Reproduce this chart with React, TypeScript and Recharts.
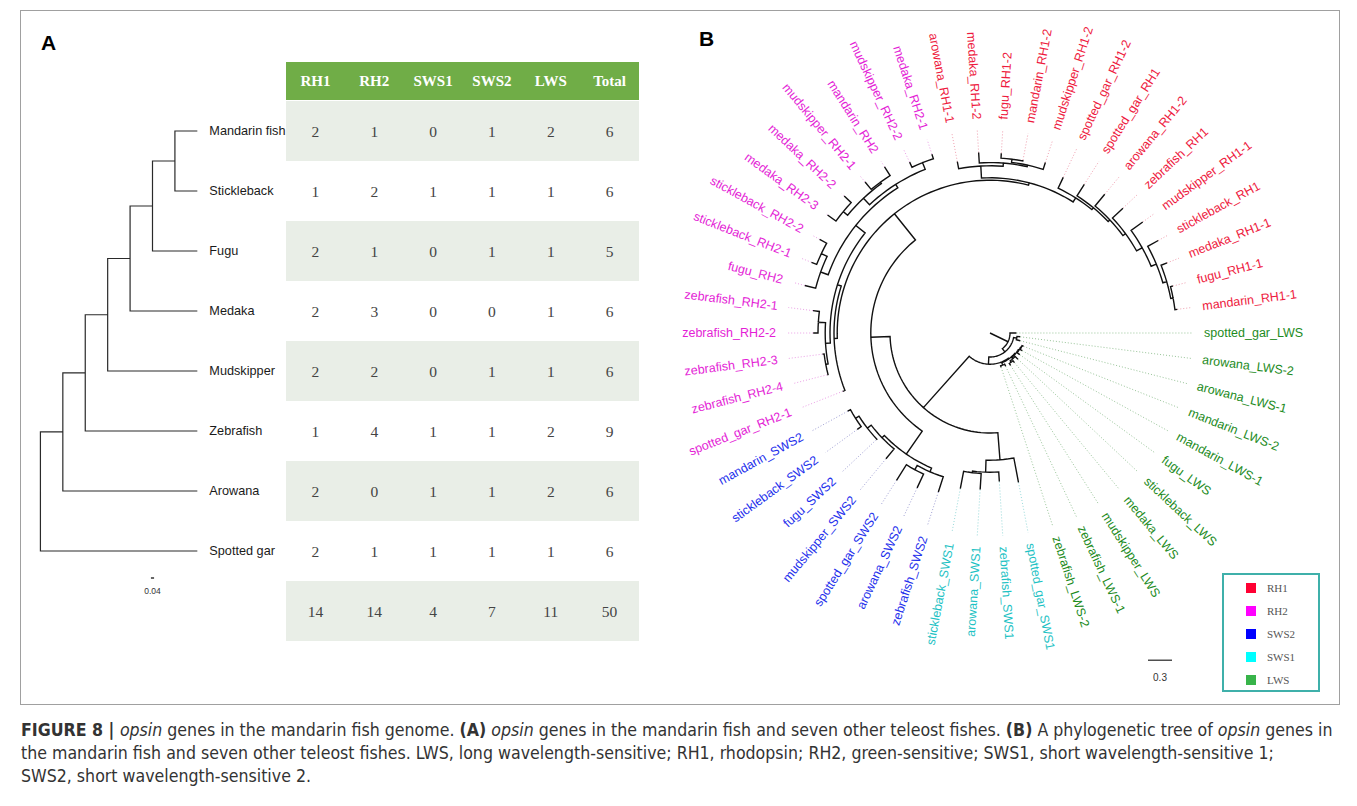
import React from "react";
import {
  ScatterChart,
  Scatter,
  XAxis,
  YAxis,
  ReferenceArea,
  ReferenceLine,
  Legend,
} from "recharts";

// ---------- panel A: opsin gene counts ----------
const species = ["Mandarin fish", "Stickleback", "Fugu", "Medaka", "Mudskipper", "Zebrafish", "Arowana", "Spotted gar"];
const columns = ["RH1", "RH2", "SWS1", "SWS2", "LWS", "Total"];
const rh1 = [2, 1, 2, 2, 2, 1, 2, 2];
const rh2 = [1, 2, 1, 3, 2, 4, 0, 1];
const sws1 = [0, 1, 0, 0, 0, 1, 1, 1];
const sws2 = [1, 1, 1, 0, 1, 1, 1, 1];
const lws = [2, 1, 1, 1, 1, 2, 2, 1];
const rowTotals = [6, 6, 5, 6, 6, 9, 6, 6];
const columnTotals = [14, 14, 4, 7, 11, 50];

// species cladogram: [node depth, ...children], numbers are species rows
type TreeNode = number | TreeNode[];
const speciesTree: TreeNode = [0, [1, [2, [3, [4, [5, [6, 0, 1], 2], 3], 4], 5], 6], 7];
const speciesTipDepth = 7;
const speciesScaleLabel = "0.04";

// ---------- panel B: opsin gene tree ----------
const geneNames = [
  "spotted_gar_LWS", "arowana_LWS-2", "arowana_LWS-1", "mandarin_LWS-2", "mandarin_LWS-1",
  "fugu_LWS", "stickleback_LWS", "medaka_LWS", "mudskipper_LWS", "zebrafish_LWS-1",
  "zebrafish_LWS-2", "spotted_gar_SWS1", "zebrafish_SWS1", "arowana_SWS1", "stickleback_SWS1",
  "zebrafish_SWS2", "arowana_SWS2", "spotted_gar_SWS2", "mudskipper_SWS2", "fugu_SWS2",
  "stickleback_SWS2", "mandarin_SWS2", "spotted_gar_RH2-1", "zebrafish_RH2-4", "zebrafish_RH2-3",
  "zebrafish_RH2-2", "zebrafish_RH2-1", "fugu_RH2", "stickleback_RH2-1", "stickleback_RH2-2",
  "medaka_RH2-3", "medaka_RH2-2", "mudskipper_RH2-1", "mandarin_RH2", "mudskipper_RH2-2",
  "medaka_RH2-1", "arowana_RH1-1", "medaka_RH1-2", "fugu_RH1-2", "mandarin_RH1-2",
  "mudskipper_RH1-2", "spotted_gar_RH1-2", "spotted_gar_RH1", "arowana_RH1-2", "zebrafish_RH1",
  "mudskipper_RH1-1", "stickleback_RH1", "medaka_RH1-1", "fugu_RH1-1", "mandarin_RH1-1",
];
const geneGroups = [
  "LWS", "LWS", "LWS", "LWS", "LWS", "LWS", "LWS", "LWS", "LWS", "LWS", "LWS",
  "SWS1", "SWS1", "SWS1", "SWS1",
  "SWS2", "SWS2", "SWS2", "SWS2", "SWS2", "SWS2", "SWS2",
  "RH2", "RH2", "RH2", "RH2", "RH2", "RH2", "RH2", "RH2", "RH2", "RH2", "RH2", "RH2", "RH2", "RH2",
  "RH1", "RH1", "RH1", "RH1", "RH1", "RH1", "RH1", "RH1", "RH1", "RH1", "RH1", "RH1", "RH1", "RH1",
];
const geneTipDepth = [
  0.33, 0.38, 0.39, 0.45, 0.46, 0.46, 0.48, 0.48, 0.48, 0.46, 0.45,
  1.9, 1.86, 1.96, 1.98,
  2.09, 2.14, 2.18, 2.04, 1.95, 2.05, 2.03,
  1.98, 2.1, 2.11, 2.21, 2.23, 2.39, 2.4, 2.43, 2.51, 2.5, 2.45, 2.46, 2.36, 2.35,
  2.18, 2.26, 2.25, 2.2, 2.24, 2.15, 2.2, 2.25, 2.28, 2.36, 2.4, 2.38, 2.36, 2.36,
];
const geneTree: TreeNode = [0,
  [0.25, 0,
    [0.3,
      [0.34, 1, 2],
      [0.39,
        [0.4,
          [0.41, [0.42, [0.43, 3, 4], 5], [0.43, 6, [0.45, 7, 8]]],
          [0.43, 9, 10]],
        [1.25,
          [1.59, 11, [1.74, 12, [1.76, 13, 14]]],
          [1.49,
            [1.84, [1.89, 15, [1.95, 16, 17]], [1.88, 18, [1.94, 19, [1.99, 20, 21]]]],
            [1.91,
              [1.95, 22,
                [2.0,
                  [2.06, [2.09, 23, 24], [2.15, 25, 26]],
                  [2.15, [2.25, 27, [2.33, 28, 29]], [2.2, [2.31, [2.38, 30, 31], [2.33, 32, 33]], [2.29, 34, 35]]]]],
              [1.94,
                [2.09, 36, [2.13, 37, [2.15, [2.19, 38, 39], 40]]],
                [2.0, 41, [2.03, 42, [2.06, 43, [2.1, 44, [2.18, 45, [2.25, 46, [2.3, 47, [2.33, 48, 49]]]]]]]]]]]]]]]];
const geneScale = 0.3;

const legendGroups = ["RH1", "RH2", "SWS2", "SWS1", "LWS"];
const labelColor: Record<string, string> = { RH1: "#EE1A3E", RH2: "#E41ED6", SWS2: "#2430EC", SWS1: "#1EC2C4", LWS: "#1D8B1D" };
const leaderColor: Record<string, string> = { RH1: "#F0A0B0", RH2: "#EBA0E6", SWS2: "#A0A0D4", SWS1: "#98DADA", LWS: "#98C498" };
const swatchColor: Record<string, string> = { RH1: "#FF0033", RH2: "#FF00FF", SWS2: "#0000FF", SWS1: "#00FFFF", LWS: "#38B44A" };

const SANS = "'Liberation Sans', Arial, sans-serif";
const SERIF = "'Liberation Serif', 'Times New Roman', serif";

// ---------- tree layout helpers ----------
type Pt = { x: number; y: number };
type Placed = { pos: number; depth: number; kids: Placed[] };

function place(node: TreeNode, leafPos: (i: number) => number, leafDepth: (i: number) => number): Placed {
  if (typeof node === "number") return { pos: leafPos(node), depth: leafDepth(node), kids: [] };
  const [depth, ...rest] = node as any[];
  const kids = rest.map((k: TreeNode) => place(k, leafPos, leafDepth));
  const pos = kids.reduce((s: number, k: Placed) => s + k.pos, 0) / kids.length;
  return { pos, depth, kids };
}

// one continuous polyline walking down every edge and back up
function tracePath(root: Placed, toXY: (depth: number, pos: number) => Pt, step: number): Pt[] {
  const out: Pt[] = [toXY(root.depth, root.pos)];
  const along = (depth: number, from: number, to: number) => {
    const n = Math.max(1, Math.ceil(Math.abs(to - from) / step));
    for (let k = 1; k <= n; k++) out.push(toXY(depth, from + ((to - from) * k) / n));
  };
  const walk = (node: Placed) => {
    node.kids.forEach((kid) => {
      along(node.depth, node.pos, kid.pos);
      out.push(toXY(kid.depth, kid.pos));
      walk(kid);
      out.push(toXY(node.depth, kid.pos));
      along(node.depth, kid.pos, node.pos);
    });
  };
  walk(root);
  return out;
}

const rect = (depth: number, pos: number): Pt => ({ x: depth, y: pos });
const polar = (depth: number, angle: number): Pt => ({
  x: depth * Math.cos((angle * Math.PI) / 180),
  y: depth * Math.sin((angle * Math.PI) / 180),
});

const leafAngle = (i: number) => (i * 360) / geneNames.length;

const speciesPath = tracePath(place(speciesTree, (i) => i, () => speciesTipDepth), rect, Infinity);
const genePath = tracePath(place(geneTree, leafAngle, (i) => geneTipDepth[i]), polar, 2);

const LEADER_END = 2.54;
const LABEL_R = 2.675;

const speciesLabels = species.map((name, i) => ({ x: speciesTipDepth, y: i, name }));
const countsByColumn = [rh1, rh2, sws1, sws2, lws, rowTotals];
const cellData = species.flatMap((_, r) => countsByColumn.map((col, c) => ({ x: c, y: r, v: col[r] })));
const totalData = columnTotals.map((v, c) => ({ x: c, y: species.length, v }));
const HEADER_Y = -0.83;
const headerData = columns.map((v, c) => ({ x: c, y: HEADER_Y, v }));
const shadedRows = [0, 2, 4, 6, 8];

const geneLabels = geneNames.map((name, i) => ({
  ...polar(LABEL_R, leafAngle(i)),
  name,
  angle: leafAngle(i),
  color: labelColor[geneGroups[i]],
}));

// ---------- shapes ----------
const Empty = () => <g />;

const SpeciesLabel = (p: any) => (
  <text x={p.cx + 12} y={p.cy} dominantBaseline="central" fontSize={12.7} fontFamily={SANS} fill="#1a1a1a">
    {p.payload.name}
  </text>
);

const CellText = (p: any) => (
  <text x={p.cx} y={p.cy} textAnchor="middle" dominantBaseline="central" fontSize={15.5} fontFamily={SERIF} fill="#444">
    {p.payload.v}
  </text>
);

const HeaderText = (p: any) => (
  <text x={p.cx} y={p.cy} textAnchor="middle" dominantBaseline="central" fontSize={15} fontWeight="bold" fontFamily={SERIF} fill="#fff">
    {p.payload.v}
  </text>
);

const SmallText = (p: any) => (
  <text x={p.cx} y={p.cy} textAnchor="middle" dominantBaseline="central" fontSize={p.payload.size} fontFamily={SANS} fill="#333">
    {p.payload.t}
  </text>
);

const GeneLabel = (p: any) => {
  const a = p.payload.angle;
  const flip = a > 90 && a < 270;
  const rot = flip ? a - 180 : a;
  return (
    <text
      x={p.cx}
      y={p.cy}
      transform={`rotate(${rot} ${p.cx} ${p.cy})`}
      textAnchor={flip ? "end" : "start"}
      dominantBaseline="central"
      fontSize={12.5}
      fontFamily={SANS}
      fill={p.payload.color}
    >
      {p.payload.name}
    </text>
  );
};

const LegendBox = () => (
  <div style={{ width: 98, height: 119, border: "2px solid #3FB0AA", boxSizing: "border-box", background: "#fff", paddingTop: 1 }}>
    {legendGroups.map((g) => (
      <div key={g} style={{ height: 23, display: "flex", alignItems: "center" }}>
        <span style={{ display: "inline-block", width: 10, height: 10, background: swatchColor[g], marginLeft: 22, marginRight: 11 }} />
        <span style={{ font: `11px ${SERIF}`, color: "#555" }}>{g}</span>
      </div>
    ))}
  </div>
);

const noMargin = { top: 0, right: 0, bottom: 0, left: 0 };
const abs = (left: number, top: number): React.CSSProperties => ({ position: "absolute", left, top });

export default function App() {
  return (
    <div style={{ position: "absolute", left: 0, top: 0, width: 1357, height: 806, background: "#fff", overflow: "hidden" }}>
      <div style={{ position: "absolute", left: 20, top: 10, width: 1320, height: 695, border: "1px solid #a0a0a0", boxSizing: "border-box" }} />
      <div style={{ ...abs(41, 31), font: `bold 21px ${SANS}`, color: "#000" }}>A</div>
      <div style={{ ...abs(699, 27), font: `bold 21px ${SANS}`, color: "#000" }}>B</div>

      {/* panel A: species cladogram */}
      <div style={abs(17.6, 41)}>
        <ScatterChart width={269} height={600} margin={noMargin}>
          <XAxis type="number" dataKey="x" domain={[-1, 11]} hide allowDataOverflow />
          <YAxis type="number" dataKey="y" domain={[-1.5, 8.5]} reversed hide allowDataOverflow />
          <Scatter data={speciesPath} line={{ stroke: "#2a2a2a", strokeWidth: 1.2 }} shape={Empty} isAnimationActive={false} />
          <Scatter data={speciesLabels} shape={SpeciesLabel} isAnimationActive={false} />
          <ReferenceLine segment={[{ x: 4.93, y: 7.45 }, { x: 5.07, y: 7.45 }]} stroke="#333" strokeWidth={1.5} />
          <Scatter data={[{ x: 5, y: 7.66, t: speciesScaleLabel, size: 8.5 }]} shape={SmallText} isAnimationActive={false} />
        </ScatterChart>
      </div>

      {/* panel A: count table */}
      <div style={abs(286, 41)}>
        <ScatterChart width={353} height={600} margin={noMargin}>
          <XAxis type="number" dataKey="x" domain={[-0.5, 5.5]} hide allowDataOverflow />
          <YAxis type="number" dataKey="y" domain={[-1.5, 8.5]} reversed hide allowDataOverflow />
          <ReferenceArea x1={-0.5} x2={5.5} y1={-1.15} y2={-0.517} fill="#70AD47" fillOpacity={1} stroke="none" />
          {shadedRows.map((r) => (
            <ReferenceArea key={r} x1={-0.5} x2={5.5} y1={r - 0.5} y2={r + 0.5} fill="#E9EEE7" fillOpacity={1} stroke="none" />
          ))}
          <Scatter data={headerData} shape={HeaderText} isAnimationActive={false} />
          <Scatter data={cellData} shape={CellText} isAnimationActive={false} />
          <Scatter data={totalData} shape={CellText} isAnimationActive={false} />
        </ScatterChart>
      </div>

      {/* panel B: circular gene tree */}
      <div style={abs(650, 3)}>
        <ScatterChart width={680} height={690} margin={noMargin}>
          <XAxis type="number" dataKey="x" domain={[-4.25, 4.25]} hide allowDataOverflow />
          <YAxis type="number" dataKey="y" domain={[-4.125, 4.5]} reversed hide allowDataOverflow />
          {geneNames.map((name, i) => (
            <ReferenceLine
              key={name}
              segment={[polar(geneTipDepth[i], leafAngle(i)), polar(LEADER_END, leafAngle(i))]}
              stroke={leaderColor[geneGroups[i]]}
              strokeDasharray="1 2"
              strokeWidth={1}
            />
          ))}
          <Scatter data={genePath} line={{ stroke: "#111", strokeWidth: 1.4 }} shape={Empty} isAnimationActive={false} />
          <Scatter data={geneLabels} shape={GeneLabel} isAnimationActive={false} />
          <ReferenceLine segment={[{ x: 1.975, y: 4.09 }, { x: 1.975 + geneScale, y: 4.09 }]} stroke="#222" strokeWidth={1.2} />
          <Scatter data={[{ x: 2.125, y: 4.31, t: String(geneScale), size: 10 }]} shape={SmallText} isAnimationActive={false} />
          <Legend
            layout="vertical"
            align="center"
            verticalAlign="middle"
            wrapperStyle={{ left: 572, top: 570, width: 98, height: 119 }}
            content={() => <LegendBox />}
          />
        </ScatterChart>
      </div>

      {/* caption */}
      <div style={{ ...abs(21, 719), font: `17.6px 'Liberation Sans Narrow', 'DejaVu Sans Condensed', sans-serif`, color: "#333", lineHeight: "23px", whiteSpace: "nowrap" }}>
        <div>
          <b>FIGURE 8 | </b><i>opsin</i> genes in the mandarin fish genome. <b>(A)</b> <i>opsin</i> genes in the mandarin fish and seven other teleost fishes. <b>(B)</b> A phylogenetic tree of <i>opsin</i> genes in
        </div>
        <div>the mandarin fish and seven other teleost fishes. LWS, long wavelength-sensitive; RH1, rhodopsin; RH2, green-sensitive; SWS1, short wavelength-sensitive 1;</div>
        <div>SWS2, short wavelength-sensitive 2.</div>
      </div>
    </div>
  );
}
